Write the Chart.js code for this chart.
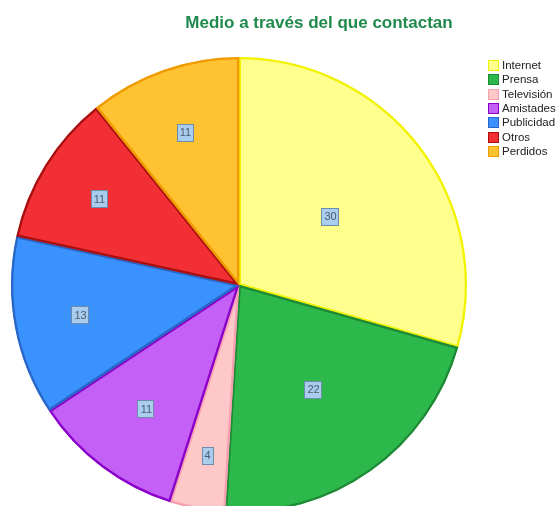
<!DOCTYPE html>
<html>
<head>
<meta charset="utf-8">
<script src="https://cdn.jsdelivr.net/npm/chart.js@4"></script>
<style>
  html, body { margin: 0; padding: 0; background: #fff; overflow: hidden; }
  #wrap { width: 557px; height: 520px; }
</style>
</head>
<body>
<div id="wrap"><canvas id="pie" width="557" height="520"></canvas></div>
<script>
var categories = ['Internet', 'Prensa', 'Televisión', 'Amistades', 'Publicidad', 'Otros', 'Perdidos'];
var counts = [30, 22, 4, 11, 13, 11, 11];
var fills = ['#FFFF8E', '#2DB84B', '#FFC8C8', '#C560F7', '#3A92FF', '#F22F35', '#FFC230'];
var edges = ['#F2F200', '#1E8A35', '#F5A0B0', '#8A00C8', '#2A66C8', '#A81010', '#F09A00'];
// how far out along each slice the count box sits (fraction of radius)
var labelDepth = [0.5, 0.56, 0.76, 0.68, 0.71, 0.72, 0.71];

var countBoxes = {
  id: 'countBoxes',
  afterDatasetsDraw: function(chart) {
    var ctx = chart.ctx;
    var arcs = chart.getDatasetMeta(0).data;
    ctx.save();
    ctx.font = '11px "Liberation Sans", Arial, sans-serif';
    ctx.textAlign = 'center';
    ctx.textBaseline = 'middle';
    arcs.forEach(function(arc, i) {
      var mid = (arc.startAngle + arc.endAngle) / 2;
      var r = arc.outerRadius * labelDepth[i];
      var x = arc.x + Math.cos(mid) * r;
      var y = arc.y + Math.sin(mid) * r;
      var txt = String(counts[i]);
      var w = Math.max(ctx.measureText(txt).width + 5, 10);
      var h = 17;
      ctx.fillStyle = '#A9CDEE';
      ctx.strokeStyle = '#6F8CA8';
      ctx.lineWidth = 1;
      ctx.fillRect(Math.round(x - w / 2) + 0.5, Math.round(y - h / 2) + 0.5, Math.round(w), h);
      ctx.strokeRect(Math.round(x - w / 2) + 0.5, Math.round(y - h / 2) + 0.5, Math.round(w), h);
      ctx.fillStyle = '#4E5A6E';
      ctx.fillText(txt, Math.round(x) + 0.5, Math.round(y) + 1);
    });
    ctx.restore();
  }
};

var headerAndKey = {
  id: 'headerAndKey',
  afterDraw: function(chart) {
    var ctx = chart.ctx;
    ctx.save();
    ctx.font = 'bold 17px "Liberation Sans", Arial, sans-serif';
    ctx.fillStyle = '#1F8A4C';
    ctx.textAlign = 'center';
    ctx.textBaseline = 'alphabetic';
    ctx.fillText('Medio a través del que contactan', 319, 28);

    ctx.font = '11.5px "Liberation Sans", Arial, sans-serif';
    ctx.textAlign = 'left';
    ctx.textBaseline = 'middle';
    categories.forEach(function(name, i) {
      var y = Math.round(60 + i * 14.3);
      ctx.fillStyle = fills[i];
      ctx.fillRect(488, y, 11, 11);
      ctx.strokeStyle = edges[i];
      ctx.lineWidth = 1;
      ctx.strokeRect(488.5, y + 0.5, 10, 10);
      ctx.fillStyle = '#222';
      ctx.fillText(name, 502, y + 6);
    });
    ctx.restore();
  }
};

new Chart(document.getElementById('pie').getContext('2d'), {
  type: 'pie',
  data: {
    labels: categories,
    datasets: [{
      data: counts,
      backgroundColor: fills,
      borderColor: edges,
      borderWidth: 2,
      borderAlign: 'inner'
    }]
  },
  options: {
    responsive: false,
    animation: false,
    layout: { padding: { left: 11, right: 90, top: 57, bottom: 7 } },
    plugins: {
      legend: { display: false },
      title: { display: false },
      tooltip: { enabled: false }
    }
  },
  plugins: [countBoxes, headerAndKey]
});
</script>
</body>
</html>
